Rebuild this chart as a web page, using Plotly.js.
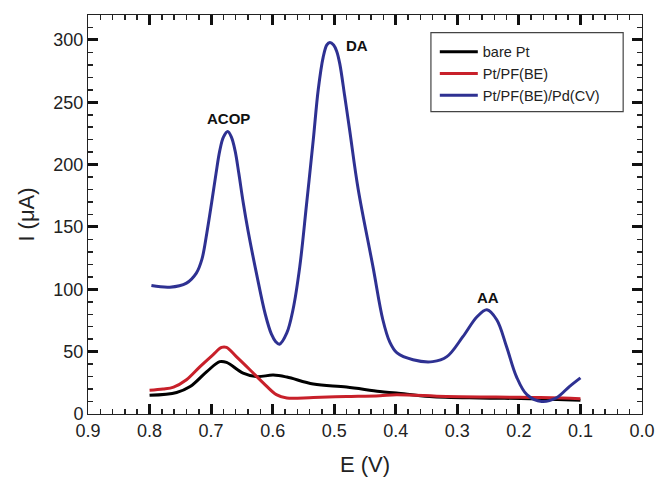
<!DOCTYPE html>
<html>
<head>
<meta charset="utf-8">
<script src="https://cdn.plot.ly/plotly-3.0.1.min.js"></script>
<style>html,body{margin:0;padding:0;background:#fff}#chart{width:658px;height:481px}</style>
</head>
<body>
<div id="chart"></div>
<script>
// E (V) and I (uA)
const bareE = [0.80, 0.756, 0.734, 0.707, 0.686, 0.675, 0.648, 0.626, 0.599, 0.577, 0.534, 0.480, 0.426, 0.399, 0.345, 0.264, 0.182, 0.10];
const bareI = [15, 17.3, 22, 34, 42, 41.4, 32.8, 30, 31.2, 29.6, 24, 21.6, 18, 16.8, 14, 12.8, 12.3, 11];

const pfE = [0.80, 0.778, 0.761, 0.740, 0.718, 0.697, 0.683, 0.675, 0.659, 0.637, 0.615, 0.594, 0.577, 0.534, 0.480, 0.426, 0.399, 0.318, 0.237, 0.182, 0.129, 0.10];
const pfI = [19, 20, 21.6, 27.5, 38, 47.5, 53.4, 53.4, 46, 35.5, 24.8, 15.5, 12.8, 13.3, 14, 14.7, 15.5, 14, 13.6, 13.3, 12.8, 12.3];

const pdE = [0.797, 0.767, 0.740, 0.724, 0.715, 0.707, 0.699, 0.692, 0.686, 0.680, 0.673, 0.667, 0.661, 0.655, 0.648, 0.640, 0.626, 0.612, 0.602, 0.595, 0.589, 0.577, 0.567, 0.556, 0.545, 0.534, 0.526, 0.518, 0.512, 0.507, 0.501, 0.496, 0.491, 0.483, 0.475, 0.461, 0.437, 0.421, 0.410, 0.398, 0.372, 0.340, 0.317, 0.291, 0.268, 0.252, 0.236, 0.220, 0.204, 0.187, 0.163, 0.139, 0.118, 0.10];
const pdI = [103, 101.7, 105, 113, 124, 145, 170, 193, 211, 222, 226.5, 222, 211, 193, 170, 147, 112, 80, 64, 58, 56, 65, 83.6, 118, 168, 220, 260, 286, 296, 298, 296, 291, 281, 255, 228, 180, 118, 75.6, 58, 49, 43.5, 42, 46, 62, 78, 83.6, 75.6, 54, 30, 15.5, 10, 13, 22, 29];

const seriesNames = ['bare Pt', 'Pt/PF(BE)', 'Pt/PF(BE)/Pd(CV)'];
const peakLabels = ['ACOP', 'DA', 'AA'];
const peakE = [0.673, 0.507, 0.252];
const peakI = [226.5, 298, 83.6];

// major tick positions – axes built from these
const xTickVals = [0.0, 0.1, 0.2, 0.3, 0.4, 0.5, 0.6, 0.7, 0.8, 0.9];
const yTickVals = [0, 50, 100, 150, 200, 250, 300];

const mk = (x, y, name, color) => ({
  x: x, y: y, name: name, type: 'scatter', mode: 'lines',
  line: {color: color, width: 3, shape: 'spline', smoothing: 1.0}
});

const data = [
  mk(bareE, bareI, seriesNames[0], '#000000'),
  mk(pfE, pfI, seriesNames[1], '#c8202a'),
  mk(pdE, pdI, seriesNames[2], '#2e3192')
];

const fam = 'Arial, Liberation Sans, sans-serif';

const annotations = peakLabels.map((t, i) => ({
  x: peakE[i], y: peakI[i], text: '<b>' + t + '</b>', showarrow: false,
  yanchor: 'middle', xanchor: 'center',
  xshift: [1, 27, 1][i], yshift: [13, -3, 12][i],
  font: {family: fam, size: 15, color: '#111'}
}));

const layout = {
  width: 658, height: 481,
  margin: {l: 88, r: 16, t: 15, b: 67},
  font: {family: fam, color: '#222'},
  showlegend: true,
  legend: {
    x: 0.626, y: 0.948, xanchor: 'left', yanchor: 'top',
    bgcolor: 'rgba(0,0,0,0)', borderwidth: 0,
    font: {family: fam, size: 14.5, color: '#222'},
    itemwidth: 38, tracegroupgap: 0
  },
  shapes: [{
    type: 'rect', xref: 'paper', yref: 'paper',
    x0: 0.619, x1: 0.966, y0: 0.758, y1: 0.956,
    line: {color: '#444', width: 1.2}, fillcolor: 'rgba(0,0,0,0)', layer: 'below'
  }],
  xaxis: {
    range: [0.9, 0.0], tickmode: 'linear', tick0: xTickVals[0], dtick: xTickVals[1] - xTickVals[0], tickformat: '.1f',
    showgrid: false, zeroline: false, showline: true, linecolor: '#222', linewidth: 1,
    mirror: 'ticks', ticks: 'inside', ticklen: 10, tickwidth: 3, tickcolor: '#111',
    tickfont: {family: fam, size: 18, color: '#222'},
    minor: {dtick: 0.02, ticks: 'inside', ticklen: 5, tickwidth: 1.5, tickcolor: '#222'},
    title: {text: 'E (V)', font: {family: fam, size: 22, color: '#222'}, standoff: 17}
  },
  yaxis: {
    range: [0, 320], tickmode: 'linear', tick0: yTickVals[0], dtick: yTickVals[1] - yTickVals[0],
    showgrid: false, zeroline: false, showline: true, linecolor: '#222', linewidth: 1,
    mirror: 'ticks', ticks: 'inside', ticklen: 10, tickwidth: 3, tickcolor: '#111',
    tickfont: {family: fam, size: 18, color: '#222'},
    minor: {dtick: 10, ticks: 'inside', ticklen: 5, tickwidth: 1.5, tickcolor: '#222'},
    title: {text: 'I (μA)', font: {family: fam, size: 22, color: '#222'}, standoff: 12}
  },
  annotations: annotations
};

Plotly.newPlot('chart', data, layout, {displayModeBar: false, staticPlot: true});
</script>
</body>
</html>
